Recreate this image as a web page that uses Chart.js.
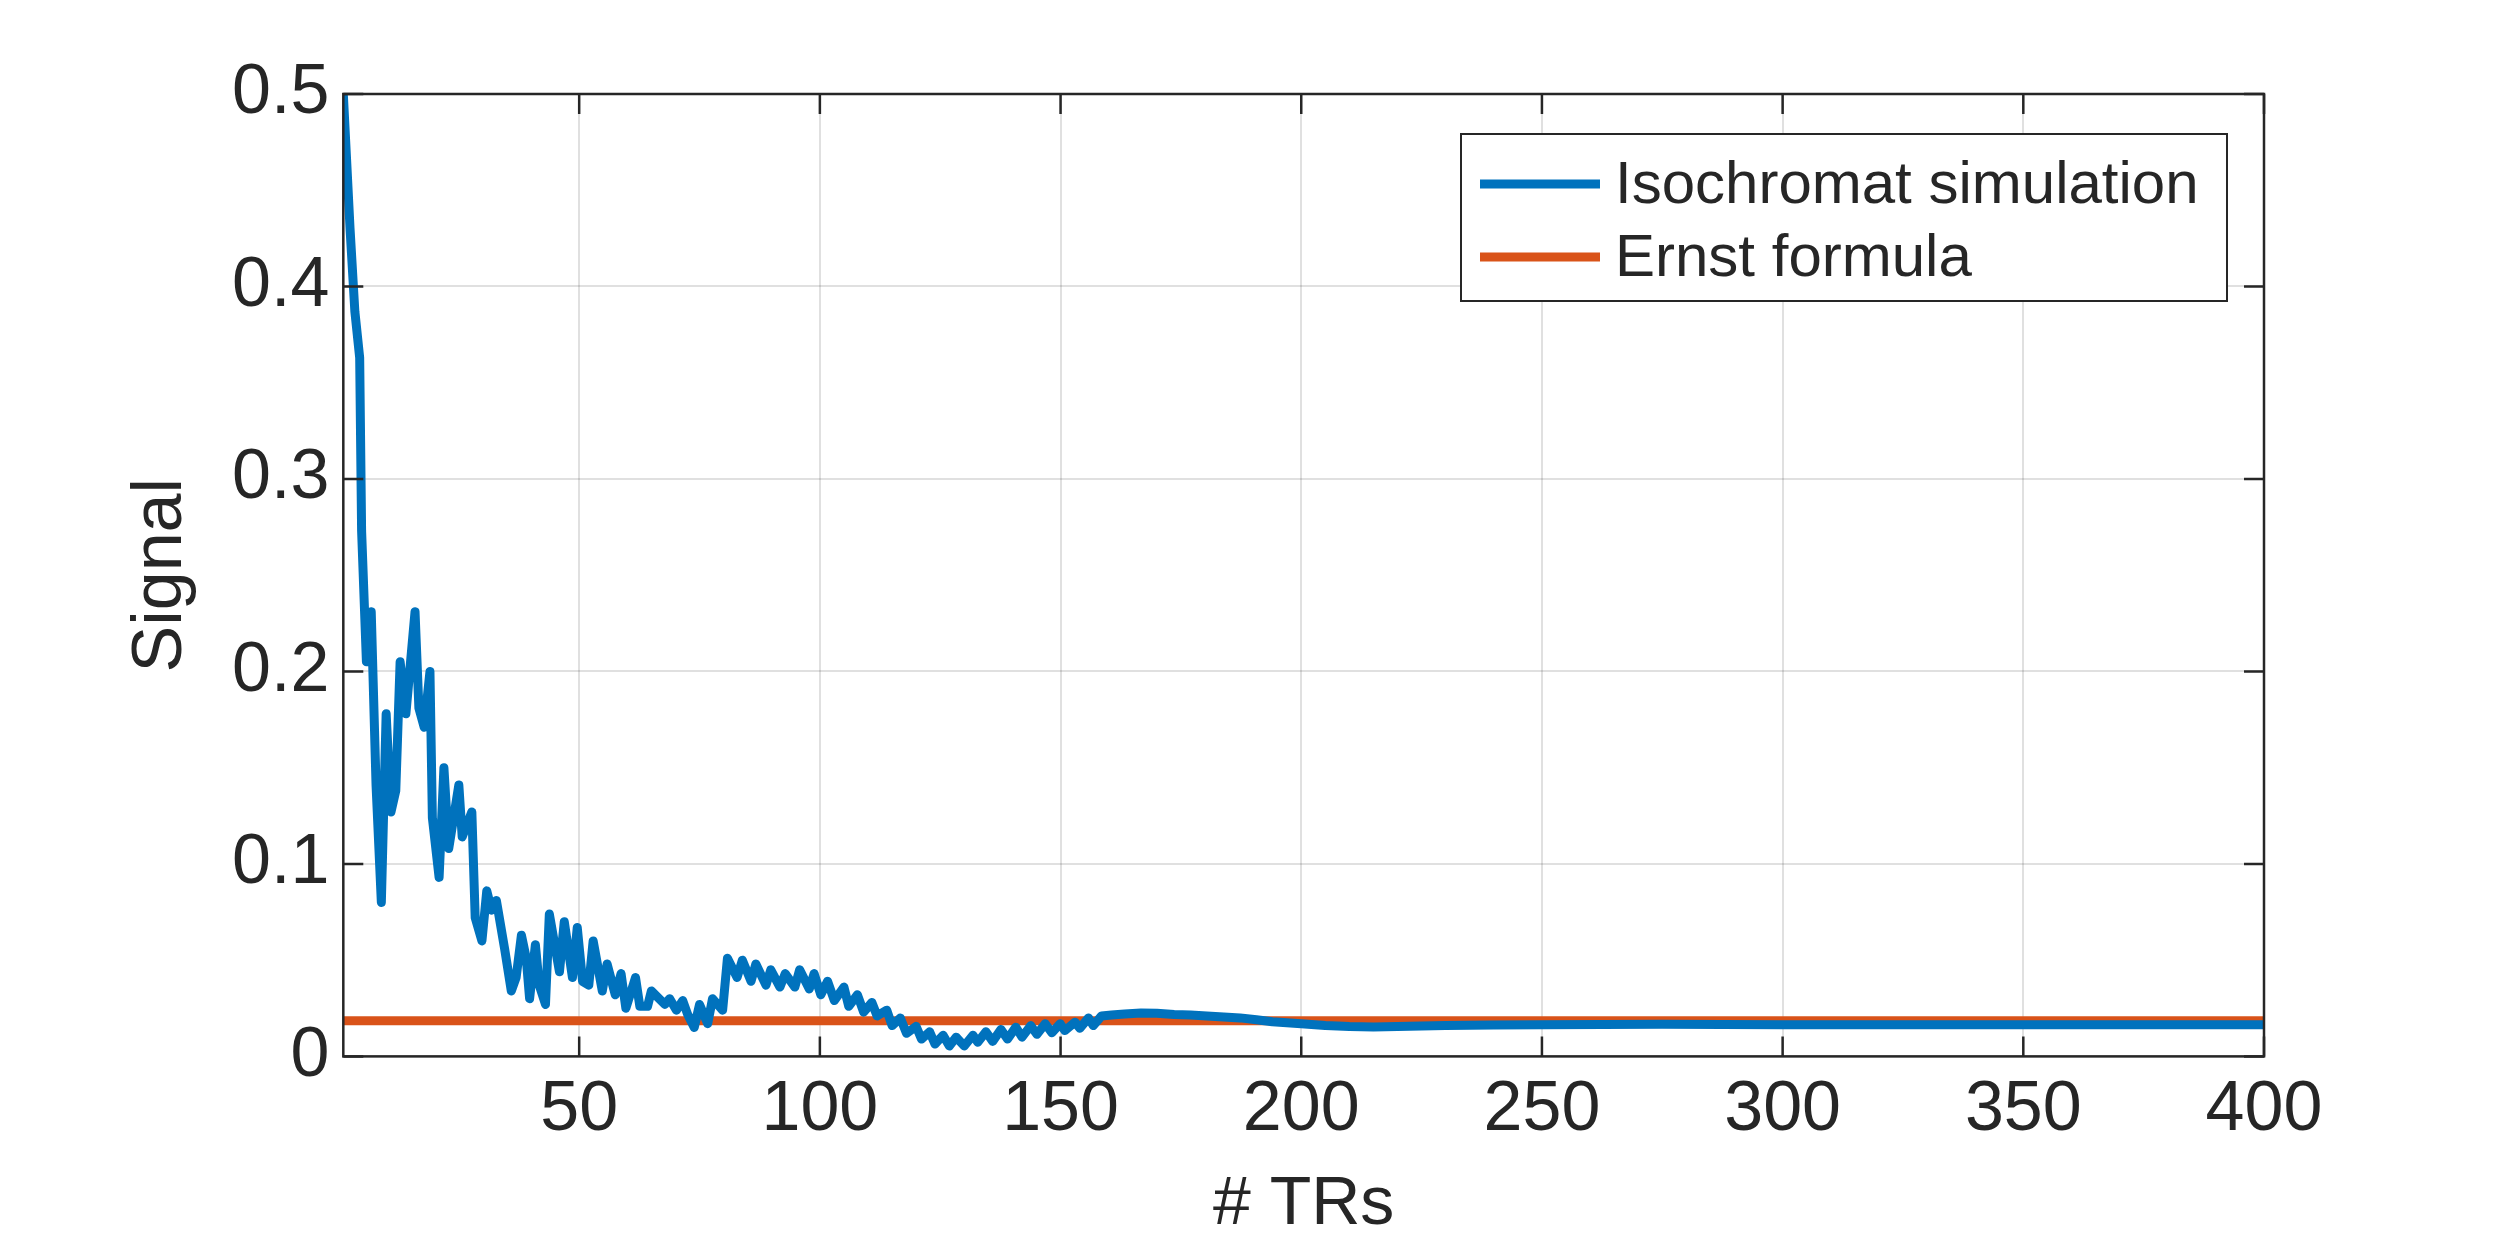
<!DOCTYPE html>
<html><head><meta charset="utf-8">
<script src="https://cdn.jsdelivr.net/npm/chart.js@4"></script>
<style>html,body{margin:0;padding:0;background:#fff}canvas{display:block}</style>
</head><body>
<canvas id="c" width="2500" height="1250"></canvas>
<script>
const trs = [1,2.4,3.4,4.4,4.8,5.8,6.8,7.8,8.9,9.9,10.9,11.9,12.8,14,15.9,16.7,17.8,19,19.5,20.9,21.9,22.9,25,25.7,27.7,28.4,29.8,30.8,31.8,32.8,34.5,35.9,36.9,38,39,39.7,40.9,41.7,43,43.8,45.9,46.9,48.6,49.6,50.7,52,52.9,54.8,55.8,57.5,58.7,59.7,61.7,62.6,64.2,65,67.8,68.8,70.2,71.5,72.5,73.9,75,76.7,77.7,79.8,80.8,82.8,83.9,85.7,86.7,88.8,89.8,91.7,92.8,94.8,95.8,97.8,98.8,100.2,101.6,103,105,106,107.8,109.1,110.8,111.9,113.9,115,116.7,118,120,121.1,122.8,123.9,125.6,126.9,128.3,130,131.8,132.8,134.5,135.9,137.6,139,140.7,142,143.8,145.1,146.8,148.2,149.9,150.9,153,154,155.8,156.8,158.5,160.6,163.3,166.7,170,173.6,177,180.4,183.9,187.3,190.7,194,200,205,210,215,220,230,240,250,275,300,325,350,375,400];
const signal = [0.5,0.43,0.387,0.363,0.273,0.205,0.231,0.141,0.08,0.178,0.127,0.138,0.205,0.178,0.231,0.181,0.171,0.2,0.124,0.093,0.15,0.108,0.141,0.114,0.127,0.072,0.06,0.086,0.076,0.081,0.056,0.034,0.041,0.063,0.051,0.03,0.058,0.037,0.027,0.074,0.044,0.07,0.041,0.067,0.039,0.037,0.06,0.034,0.048,0.032,0.043,0.025,0.041,0.026,0.026,0.034,0.027,0.03,0.024,0.029,0.022,0.015,0.027,0.017,0.03,0.024,0.051,0.041,0.05,0.039,0.048,0.037,0.045,0.036,0.043,0.036,0.045,0.035,0.043,0.032,0.039,0.029,0.036,0.026,0.032,0.023,0.028,0.021,0.024,0.016,0.020,0.012,0.0156,0.009,0.0128,0.0064,0.011,0.0054,0.010,0.0054,0.011,0.0073,0.0128,0.0078,0.014,0.009,0.0152,0.010,0.016,0.0115,0.017,0.0123,0.017,0.0134,0.0178,0.0146,0.020,0.016,0.021,0.0215,0.022,0.0226,0.0224,0.0218,0.0215,0.021,0.0205,0.020,0.019,0.018,0.017,0.016,0.0155,0.0153,0.0155,0.016,0.0163,0.0165,0.0167,0.0165,0.0164,0.0164,0.0164,0.0164,0.0164];
const ernstX = [1,400];
const ernstY = [0.0185,0.0185];
const xTicks = [50,100,150,200,250,300,350,400];
const yTicks = [0,0.1,0.2,0.3,0.4,0.5];
const seriesNames = ['Isochromat simulation','Ernst formula'];

const FONT = '"Liberation Sans", Arial, sans-serif';
const box = {
  id:'box',
  afterDraw(ch){
    const {ctx, chartArea:a, scales} = ch;
    ctx.save();
    ctx.strokeStyle='#262626'; ctx.lineWidth=2.5;
    ctx.strokeRect(a.left,a.top,a.right-a.left,a.bottom-a.top);
    const L=20;
    ctx.beginPath();
    xTicks.forEach(v=>{const x=scales.x.getPixelForValue(v);
      ctx.moveTo(x,a.bottom);ctx.lineTo(x,a.bottom-L);ctx.moveTo(x,a.top);ctx.lineTo(x,a.top+L);});
    yTicks.forEach(v=>{const y=scales.y.getPixelForValue(v);
      ctx.moveTo(a.left,y);ctx.lineTo(a.left+L,y);ctx.moveTo(a.right,y);ctx.lineTo(a.right-L,y);});
    ctx.stroke();
    const bx=1461, by=134, bw=766, bh=167;
    ctx.fillStyle='#fff'; ctx.fillRect(bx,by,bw,bh);
    ctx.strokeStyle='#262626'; ctx.lineWidth=2; ctx.strokeRect(bx,by,bw,bh);
    ch.data.datasets.forEach((d,i)=>{
      const y=by+50+i*73;
      ctx.strokeStyle=d.borderColor; ctx.lineWidth=9;
      ctx.beginPath();ctx.moveTo(bx+19,y);ctx.lineTo(bx+139,y);ctx.stroke();
      ctx.fillStyle='#262626'; ctx.font='60px '+FONT; ctx.textBaseline='middle';
      ctx.fillText(d.label,bx+154,y+2);
    });
    ctx.restore();
  }
};
new Chart(document.getElementById('c'),{
  type:'line',
  data:{datasets:[
    {label:seriesNames[0],data:trs.map((x,i)=>({x,y:signal[i]})),borderColor:'#0072BD',borderWidth:9,pointRadius:0,tension:0,borderJoinStyle:'round'},
    {label:seriesNames[1],data:ernstX.map((x,i)=>({x,y:ernstY[i]})),borderColor:'#D95319',borderWidth:9,pointRadius:0}
  ]},
  options:{
    responsive:false,animation:false,devicePixelRatio:1,
    layout:{padding:{left:120,right:236,top:94,bottom:4}},
    plugins:{legend:{display:false},tooltip:{enabled:false}},
    scales:{
      x:{type:'linear',min:1,max:400,
        afterBuildTicks:s=>{s.ticks=xTicks.map(v=>({value:v}));},
        grid:{color:'rgba(0,0,0,0.12)',lineWidth:2,drawTicks:false},border:{display:false},
        ticks:{color:'#262626',font:{family:FONT,size:70},padding:12,maxRotation:0},
        title:{display:true,text:'# TRs',color:'#262626',font:{family:FONT,size:68},padding:{top:0,bottom:0}}},
      y:{type:'linear',min:0,max:0.5,
        afterBuildTicks:s=>{s.ticks=yTicks.map(v=>({value:v}));},
        grid:{color:'rgba(0,0,0,0.12)',lineWidth:2,drawTicks:false},border:{display:false},
        ticks:{color:'#262626',font:{family:FONT,size:70},padding:14,callback:v=>String(Math.round(v*10)/10)},
        title:{display:true,text:'Signal',color:'#262626',font:{family:FONT,size:70},padding:{top:0,bottom:14}}}
    }
  },
  plugins:[box]
});
</script>
</body></html>
